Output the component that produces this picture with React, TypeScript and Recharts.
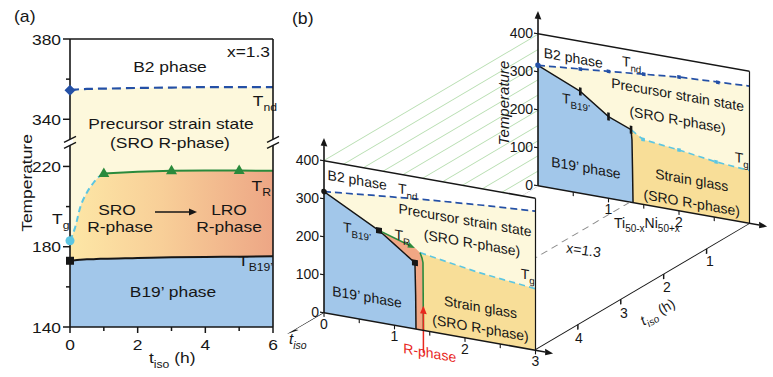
import React from 'react';
import { ComposedChart, Area, Line, XAxis, YAxis, ReferenceLine, ReferenceDot } from 'recharts';

const FONT = '"Liberation Sans", Arial, Helvetica, sans-serif';
const INK = '#161616';
const C_BLUE = '#a2c7ea';
const C_CREAM = '#fdf8dc';
const C_GLASS = '#f8de98';
const C_RPH = '#f1a784';
const C_TND = '#2450a6';
const C_TR = '#2a8a3c';
const C_TG = '#5cc6e2';
const C_RED = '#e8281e';
const C_WALL = '#b8deb1';

// ================= Panel (a): x = 1.3 =================
const A_TIME = [0, 0.15, 0.3, 0.5, 0.7, 0.9, 1, 2, 3, 4, 5, 6];
const A_TND = [354.5, 354.8, 355, 355.1, 355.2, 355.3, 355.3, 355.6, 355.8, 356, 356, 356];
const A_UPPER = [183, 189.5, 199.5, 207, 212, 215.5, 216.5, 217.3, 217.8, 218, 218, 217.8]; // Tg then TR
const A_TB19 = [173, 173.3, 173.5, 173.7, 173.8, 174, 174, 174.4, 174.7, 174.9, 175, 175.2];
const A_TG_LAST_T = 1;
const A_TR_FIRST_T = 1;
const A_TR_MARK_T = [1, 3, 5];
const A_Y_MIN = 140;
const A_Y_MAX = 380;
const A_Y_TICKS = [140, 160, 180, 200, 220, 340, 360, 380];
const A_Y_LABELS = [140, 180, 220, 340, 380];
const A_X_TICKS = [0, 1, 2, 3, 4, 5, 6];
const A_X_LABELS = [0, 2, 4, 6];
const A_GAP = 96.5; // broken temperature axis
const A_BREAK_POS = 232.25;
const A_SX = 1.16;

const brk = (T: number) => (T > 300 ? T - A_GAP : T);
const unbrk = (v: number) => (v > A_BREAK_POS ? v + A_GAP : v);

const aRows = A_TIME.map((t, i) => ({
  t,
  blue: [A_Y_MIN, A_TB19[i]],
  sro: [A_TB19[i], A_UPPER[i]],
  pre: [A_UPPER[i], brk(A_TND[i])],
  tnd: brk(A_TND[i]),
  tb: A_TB19[i],
  tg: t <= A_TG_LAST_T ? A_UPPER[i] : null,
  tr: t >= A_TR_FIRST_T ? A_UPPER[i] : null,
}));

// ================= Panel (b): composition / temperature faces =================
const COMP_AXIS_MAX = 3.25;
const T_AXIS_MAX = 460;
const FRAME_X = [0, 3];
const FRAME_TOP = 400;
const T_TICKS = [0, 100, 200, 300, 400];
const F_X_TICKS = [0, 0.5, 1, 1.5, 2, 2.5, 3];
const F_X_LABELS = [0, 1, 2, 3];
const B_X_TICKS = [0.5, 1, 1.5, 2, 2.5];
const B_X_LABELS = [1, 2];

// front face (long ageing)
const F_TND_X = [0, 0.75, 1.5, 2.25, 3];
const F_TND = [319, 333, 346, 357, 366];
const F_TB_X = [0, 0.78, 1.0, 1.2, 1.29, 1.3, 1.305];
const F_TB = [319, 242, 213, 186, 174, 90, 0];
const F_TR_X = [0.78, 1.29];
const F_TR = [242, 213];
const F_RB_X = [1.362, 1.39, 1.404, 1.41];
const F_RB = [203, 190, 178, 0];
const F_RP_X = [0.78, 1.0, 1.2, 1.29, 1.3, 1.305, 1.362, 1.39, 1.404];
const F_RP_LO = [242, 213, 186, 174, 90, 0, 0, 0, 0];
const F_RP_HI = [242, 229.5, 218, 213, 212, 211.5, 203, 190, 178];
const F_TG_X = [1.362, 2.2, 3];
const F_TG = [203, 178, 162];
const F_SQ_X = [0.78, 1.29];
const F_SQ_T = [242, 174];
const F_RED_ARROW = { x: 1.41, from: -59, to: 65 };

// back face (t_iso = 0)
const B_TND_X = [0, 1, 2, 3];
const B_TND = [317, 334, 352, 361];
const B_TB_X = [0, 0.6, 1.0, 1.32, 1.333, 1.34, 1.348];
const B_TB = [317, 268, 215, 191, 165, 94, 0];
const B_TG_X = [1.32, 1.49, 2.0, 2.525, 3];
const B_TG = [191, 171, 160, 146, 139];
const B_TND_MX = [0.6, 1.0, 1.5, 2.0, 2.55];
const B_TND_MT = [327, 334, 343, 352, 356];
const B_TB_MX = [0.6, 1.0, 1.32];
const B_TB_MT = [268, 215, 191];
const B_TG_MX = [1.49, 2.0, 2.525];
const B_TG_MT = [171, 160, 146];

// side wall (x = 0) and floor (T = 0)
const WALL_LEVELS = [40, 80, 120, 160, 200, 240, 280, 320, 360, 400];
const TISO_FRONT = 5;
const TISO_AXIS_MAX = 6;
const TISO_TICKS = [1, 2, 3, 4];
const X_GUIDE = 1.3;
const TISO_ARROW_END = 5.85;

// ---- projection layout (page pixels) ----
const UX = 70.5; // px per composition unit
const UT = 0.38; // px per K
const SKEW_TAN = 0.1773;
const SKEW_DEG = (Math.atan(SKEW_TAN) * 180) / Math.PI;
const TH_X = 42.9; // page px per hour (leftwards)
const TH_Y = 25.3; // page px per hour (downwards)
const WALL_DEG = (Math.atan(-TH_Y / TH_X) * 180) / Math.PI;
const FLOOR_V = 50; // chart px per hour in floor chart
const B_ORIGIN = { x: 538, y: 186 };
const F_ORIGIN = { x: B_ORIGIN.x - TISO_FRONT * TH_X, y: B_ORIGIN.y + TISO_FRONT * TH_Y };
const P_YAW = 40, P_MT = 6, P_XAH = 50, P_MR = 6;

const rangeRows = (xs: number[], lo: number[] | number, hi: number[] | number) =>
  xs.map((x, i) => ({ x, r: [typeof lo === 'number' ? lo : lo[i], typeof hi === 'number' ? hi : hi[i]] }));
const lineRows = (xs: number[], ys: number[]) => xs.map((x, i) => ({ x, y: ys[i] }));

const unskew = (x: number, y: number) => `translate(${x},${y}) skewY(${-SKEW_DEG}) translate(${-x},${-y})`;

const arrowShape = (color: string, width: number, head: number, dash?: string) => (p: any) => {
  const { x1, y1, x2, y2 } = p;
  const a = Math.atan2(y2 - y1, x2 - x1);
  const bx = x2 - head * Math.cos(a);
  const by = y2 - head * Math.sin(a);
  const w = head * 0.42;
  const lx = bx + w * Math.sin(a), ly = by - w * Math.cos(a);
  const rx = bx - w * Math.sin(a), ry = by + w * Math.cos(a);
  return (
    <g>
      <line x1={x1} y1={y1} x2={bx} y2={by} stroke={color} strokeWidth={width} strokeDasharray={dash} />
      <polygon points={`${x2},${y2} ${lx},${ly} ${rx},${ry}`} fill={color} />
    </g>
  );
};

const shapeAt = (fn: (cx: number, cy: number) => React.ReactElement) => (p: any) => fn(p.cx, p.cy);

function subText(main: string, sub: string, size: number) {
  return [
    <tspan key="m">{main}</tspan>,
    <tspan key="s" fontSize={size * 0.7} dy={size * 0.3}>{sub}</tspan>,
  ];
}

// ---------- panel (a) ticks ----------
const aYTick = (p: any) => {
  const { x, y, payload } = p;
  const real = Math.round(unbrk(payload.value));
  const major = A_Y_LABELS.includes(real);
  return (
    <g>
      <line x1={x - (major ? 7 : 4)} x2={x} y1={y} y2={y} stroke={INK} strokeWidth={1.5} />
      {major && (
        <text transform={`translate(${x - 9},${y + 5.5}) scale(${A_SX},1)`} textAnchor="end" fontSize={15} fontFamily={FONT} fill={INK}>
          {real}
        </text>
      )}
    </g>
  );
};
const aXTick = (p: any) => {
  const { x, y, payload } = p;
  const major = A_X_LABELS.includes(payload.value);
  return (
    <g>
      <line x1={x} x2={x} y1={y} y2={y + (major ? 6 : 4)} stroke={INK} strokeWidth={1.5} />
      {major && (
        <text transform={`translate(${x},${y + 23}) scale(${A_SX},1)`} textAnchor="middle" fontSize={15} fontFamily={FONT} fill={INK}>
          {payload.value}
        </text>
      )}
    </g>
  );
};
const BreakMark = (p: any) => {
  const { cx, cy } = p;
  return (
    <g>
      <polygon points={`${cx - 3},${cy - 1} ${cx + 3},${cy - 4} ${cx + 3},${cy + 2} ${cx - 3},${cy + 5}`} fill="#fff" />
      <line x1={cx - 6} y1={cy + 0.5} x2={cx + 6} y2={cy - 5.5} stroke={INK} strokeWidth={1.4} />
      <line x1={cx - 6} y1={cy + 6.5} x2={cx + 6} y2={cy + 0.5} stroke={INK} strokeWidth={1.4} />
    </g>
  );
};

function PanelA() {
  const trMarks = A_TR_MARK_T.map((t) => ({ t, v: A_UPPER[A_TIME.indexOf(t)] }));
  return (
    <div style={{ position: 'absolute', left: 0, top: 0 }}>
      <ComposedChart width={290} height={377} data={aRows} margin={{ top: 39, right: 17, bottom: 0, left: 0 }}>
        <defs>
          <linearGradient id="sroGrad" x1="0" y1="0" x2="1" y2="0">
            <stop offset="0" stopColor="#fde7a6" />
            <stop offset="0.45" stopColor="#f8cf98" />
            <stop offset="1" stopColor="#eda685" />
          </linearGradient>
        </defs>
        <XAxis dataKey="t" type="number" domain={[0, 6]} ticks={A_X_TICKS} interval={0} height={50}
          tickSize={0} tickMargin={0} tickLine={false} axisLine={{ stroke: INK, strokeWidth: 1.6 }} tick={aXTick} />
        <YAxis type="number" domain={[A_Y_MIN, brk(A_Y_MAX)]} ticks={A_Y_TICKS.map(brk)} interval={0} width={70}
          tickSize={0} tickMargin={0} tickLine={false} axisLine={{ stroke: INK, strokeWidth: 1.6 }} tick={aYTick} />
        <Area dataKey="pre" type="monotone" fill={C_CREAM} fillOpacity={1} stroke="none" isAnimationActive={false} />
        <Area dataKey="sro" type="monotone" fill="url(#sroGrad)" fillOpacity={1} stroke="none" isAnimationActive={false} />
        <Area dataKey="blue" type="monotone" fill={C_BLUE} fillOpacity={1} stroke="none" isAnimationActive={false} />
        <Line dataKey="tnd" type="monotone" stroke={C_TND} strokeWidth={2.2} strokeDasharray="9 5" dot={false} activeDot={false} isAnimationActive={false} />
        <Line dataKey="tb" type="monotone" stroke={INK} strokeWidth={2} dot={false} activeDot={false} isAnimationActive={false} />
        <Line dataKey="tr" type="linear" stroke={C_TR} strokeWidth={2} dot={false} activeDot={false} isAnimationActive={false} />
        <Line dataKey="tg" type="monotone" stroke={C_TG} strokeWidth={2} strokeDasharray="6 4" dot={false} activeDot={false} isAnimationActive={false} />
        <ReferenceLine y={brk(A_Y_MAX)} stroke={INK} strokeWidth={1.6} />
        <ReferenceLine x={6} stroke={INK} strokeWidth={1.6} />
        <ReferenceDot x={0} y={A_BREAK_POS} r={0} ifOverflow="visible" shape={BreakMark} />
        <ReferenceDot x={6} y={A_BREAK_POS} r={0} ifOverflow="visible" shape={BreakMark} />
        <ReferenceDot x={0} y={brk(A_TND[0])} r={0} ifOverflow="visible"
          shape={shapeAt((cx, cy) => <polygon points={`${cx},${cy - 5.5} ${cx + 5.5},${cy} ${cx},${cy + 5.5} ${cx - 5.5},${cy}`} fill={C_TND} />)} />
        <ReferenceDot x={0} y={A_TB19[0]} r={0} ifOverflow="visible"
          shape={shapeAt((cx, cy) => <rect x={cx - 4} y={cy - 4} width={8} height={8} fill={INK} />)} />
        <ReferenceDot x={0} y={A_UPPER[0]} r={0} ifOverflow="visible"
          shape={shapeAt((cx, cy) => <circle cx={cx} cy={cy} r={4.5} fill={C_TG} />)} />
        {trMarks.map((m) => (
          <ReferenceDot key={m.t} x={m.t} y={m.v} r={0} ifOverflow="visible"
            shape={shapeAt((cx, cy) => <polygon points={`${cx},${cy - 6} ${cx + 5.5},${cy + 3.5} ${cx - 5.5},${cy + 3.5}`} fill={C_TR} />)} />
        ))}
      </ComposedChart>
    </div>
  );
}

// ---------- panel (b) faces ----------
const compTick = (labels: number[]) => (p: any) => {
  const { x, y, payload } = p;
  const v = payload.value;
  const ly = y + 16;
  return (
    <g>
      <line x1={x} x2={x} y1={y} y2={y + 4} stroke={INK} strokeWidth={1.1} />
      {labels.includes(v) && (
        <text x={x} y={ly} textAnchor="middle" fontSize={14} fontFamily={FONT} fill={INK} transform={unskew(x, ly)}>{v}</text>
      )}
    </g>
  );
};
const tempTick = (p: any) => {
  const { x, y, payload } = p;
  return (
    <g>
      <line x1={x - 4} x2={x} y1={y} y2={y} stroke={INK} strokeWidth={1.1} />
      <text x={x - 5} y={y + 5} textAnchor="end" fontSize={14} fontFamily={FONT} fill={INK} transform={unskew(x - 5, y + 5)}>
        {payload.value}
      </text>
    </g>
  );
};

const areaProps = { dataKey: 'r', type: 'linear' as const, stroke: 'none', fillOpacity: 1, isAnimationActive: false };
const lineProps = { dataKey: 'y', type: 'linear' as const, dot: false, activeDot: false, isAnimationActive: false };

type Lbl = { x: number; T: number; text: string; sub?: string; anchor?: 'start' | 'middle' | 'end'; color?: string };
const F_LABELS: Lbl[] = [
  { x: 0.47, T: 352, text: 'B2 phase' },
  { x: 1.05, T: 350, text: 'T', sub: 'nd', anchor: 'start' },
  { x: 2.0, T: 297, text: 'Precursor strain state' },
  { x: 2.1, T: 240, text: '(SRO R-phase)' },
  { x: 0.27, T: 222, text: 'T', sub: 'B19’', anchor: 'start' },
  { x: 1.0, T: 227, text: 'T', sub: 'R', anchor: 'start' },
  { x: 0.61, T: 49, text: 'B19’ phase' },
  { x: 2.79, T: 183, text: 'T', sub: 'g', anchor: 'start' },
  { x: 2.22, T: 75, text: 'Strain glass' },
  { x: 2.22, T: 20, text: '(SRO R-phase)' },
  { x: 1.5, T: -69, text: 'R-phase', color: C_RED },
];
const B_LABELS: Lbl[] = [
  { x: 0.5, T: 340, text: 'B2 phase' },
  { x: 1.19, T: 355, text: 'T', sub: 'nd', anchor: 'start' },
  { x: 1.98, T: 292, text: 'Precursor strain state' },
  { x: 1.98, T: 226, text: '(SRO R-phase)' },
  { x: 0.34, T: 230, text: 'T', sub: 'B19’', anchor: 'start' },
  { x: 0.68, T: 57, text: 'B19’ phase' },
  { x: 2.79, T: 155, text: 'T', sub: 'g', anchor: 'start' },
  { x: 2.18, T: 74, text: 'Strain glass' },
  { x: 2.18, T: 14, text: '(SRO R-phase)' },
];

const labelDots = (labels: Lbl[], prefix: string) =>
  labels.map((l, i) => (
    <ReferenceDot key={`${prefix}${i}`} x={l.x} y={l.T} r={0} ifOverflow="visible"
      shape={shapeAt((cx, cy) => (
        <text x={cx} y={cy} fontSize={14} fontFamily={FONT} fill={l.color || INK} textAnchor={l.anchor || 'middle'}>
          {l.sub ? subText(l.text, l.sub, 14) : l.text}
        </text>
      ))} />
  ));

const markerDots = (xs: number[], ts: number[], prefix: string, draw: (cx: number, cy: number) => React.ReactElement) =>
  xs.map((x, i) => <ReferenceDot key={`${prefix}${i}`} x={x} y={ts[i]} r={0} ifOverflow="visible" shape={shapeAt(draw)} />);

const frameLines = (prefix: string) => [
  <ReferenceLine key={`${prefix}top`} segment={[{ x: FRAME_X[0], y: FRAME_TOP }, { x: FRAME_X[1], y: FRAME_TOP }]} stroke={INK} strokeWidth={1.6} ifOverflow="visible" />,
  <ReferenceLine key={`${prefix}right`} segment={[{ x: FRAME_X[1], y: 0 }, { x: FRAME_X[1], y: FRAME_TOP }]} stroke={INK} strokeWidth={1.2} ifOverflow="visible" />,
  <ReferenceLine key={`${prefix}yax`} segment={[{ x: 0, y: 0 }, { x: 0, y: T_AXIS_MAX }]} ifOverflow="visible" shape={arrowShape(INK, 1.6, 8)} />,
  <ReferenceLine key={`${prefix}xax`} segment={[{ x: 0, y: 0 }, { x: COMP_AXIS_MAX, y: 0 }]} ifOverflow="visible" shape={arrowShape(INK, 1.6, 8)} />,
];

function SkewPanel({ origin, xTicks, xLabels, children }: any) {
  const plotW = COMP_AXIS_MAX * UX;
  const plotH = T_AXIS_MAX * UT;
  const W = P_YAW + plotW + P_MR;
  const H = P_MT + plotH + P_XAH;
  return (
    <div style={{ position: 'absolute', left: origin.x - P_YAW, top: origin.y - plotH - P_MT, width: W, height: H,
      transform: `skewY(${SKEW_DEG}deg)`, transformOrigin: `${P_YAW}px ${P_MT + plotH}px` }}>
      <ComposedChart width={W} height={H} margin={{ top: P_MT, right: P_MR, bottom: 0, left: 0 }}>
        <XAxis type="number" dataKey="x" domain={[0, COMP_AXIS_MAX]} allowDataOverflow ticks={xTicks} interval={0} height={P_XAH}
          axisLine={false} tickLine={false} tickSize={0} tickMargin={0} tick={compTick(xLabels)} />
        <YAxis type="number" domain={[0, T_AXIS_MAX]} allowDataOverflow ticks={T_TICKS} interval={0} width={P_YAW}
          axisLine={false} tickLine={false} tickSize={0} tickMargin={0} tick={tempTick} />
        {children}
      </ComposedChart>
    </div>
  );
}

function BackPanel() {
  const kids = [
    <Area key="bg" data={rangeRows(FRAME_X, 0, FRAME_TOP)} {...areaProps} fill="#ffffff" />,
    <Area key="pre" data={rangeRows(B_TND_X, 0, B_TND)} {...areaProps} fill={C_CREAM} />,
    <Area key="glass" data={rangeRows(B_TG_X, 0, B_TG)} {...areaProps} fill={C_GLASS} />,
    <Area key="b19" data={rangeRows(B_TB_X, 0, B_TB)} {...areaProps} fill={C_BLUE} />,
    <Line key="tnd" data={lineRows(B_TND_X, B_TND)} {...lineProps} stroke={C_TND} strokeWidth={1.7} strokeDasharray="7 4" />,
    <Line key="tg" data={lineRows(B_TG_X, B_TG)} {...lineProps} stroke={C_TG} strokeWidth={1.7} strokeDasharray="6 4" />,
    <Line key="tb" data={lineRows(B_TB_X, B_TB)} {...lineProps} stroke={INK} strokeWidth={1.5} />,
    ...frameLines('b'),
    ...markerDots(B_TND_MX, B_TND_MT, 'mn', (cx, cy) => <rect x={cx - 1.8} y={cy - 1.8} width={3.6} height={3.6} fill={C_TND} />),
    ...markerDots(B_TB_MX, B_TB_MT, 'mb', (cx, cy) => <rect x={cx - 1.3} y={cy - 4} width={2.6} height={8} fill={INK} />),
    ...markerDots(B_TG_MX, B_TG_MT, 'mg', (cx, cy) => <rect x={cx - 1.8} y={cy - 1.8} width={3.6} height={3.6} fill={C_TG} />),
    ...markerDots([B_TND_X[0]], [B_TND[0]], 'm0', (cx, cy) => <circle cx={cx} cy={cy} r={2.8} fill={C_TND} />),
    ...labelDots(B_LABELS, 'bl'),
  ];
  return <SkewPanel origin={B_ORIGIN} xTicks={B_X_TICKS} xLabels={B_X_LABELS}>{kids}</SkewPanel>;
}

function FrontPanel() {
  const kids = [
    <Area key="bg" data={rangeRows(FRAME_X, 0, FRAME_TOP)} {...areaProps} fill="#ffffff" />,
    <Area key="pre" data={rangeRows(F_TND_X, 0, F_TND)} {...areaProps} fill={C_CREAM} />,
    <Area key="glass" data={rangeRows(F_TG_X, 0, F_TG)} {...areaProps} fill={C_GLASS} />,
    <Area key="b19" data={rangeRows(F_TB_X, 0, F_TB)} {...areaProps} fill={C_BLUE} />,
    <Area key="rph" data={rangeRows(F_RP_X, F_RP_LO, F_RP_HI)} {...areaProps} fill={C_RPH} />,
    <Line key="tnd" data={lineRows(F_TND_X, F_TND)} {...lineProps} stroke={C_TND} strokeWidth={1.7} strokeDasharray="7 4" />,
    <Line key="tg" data={lineRows(F_TG_X, F_TG)} {...lineProps} stroke={C_TG} strokeWidth={1.7} strokeDasharray="6 4" />,
    <Line key="tb" data={lineRows(F_TB_X, F_TB)} {...lineProps} stroke={INK} strokeWidth={1.5} />,
    <Line key="rb" data={lineRows(F_RB_X, F_RB)} {...lineProps} stroke={C_TR} strokeWidth={1.6} />,
    <ReferenceLine key="tr" segment={[{ x: F_TR_X[0], y: F_TR[0] }, { x: F_TR_X[1], y: F_TR[1] }]} ifOverflow="visible" shape={arrowShape(C_TR, 1.7, 7)} />,
    <ReferenceLine key="red" segment={[{ x: F_RED_ARROW.x, y: F_RED_ARROW.from }, { x: F_RED_ARROW.x, y: F_RED_ARROW.to }]} ifOverflow="visible" shape={arrowShape(C_RED, 1.5, 8)} />,
    ...frameLines('f'),
    ...markerDots(F_SQ_X, F_SQ_T, 'sq', (cx, cy) => <rect x={cx - 3} y={cy - 3} width={6} height={6} fill={INK} />),
    ...markerDots([F_TND_X[0]], [F_TND[0]], 'f0', (cx, cy) => <circle cx={cx} cy={cy} r={2.8} fill={INK} />),
    ...labelDots(F_LABELS, 'fl'),
  ];
  return <SkewPanel origin={F_ORIGIN} xTicks={F_X_TICKS} xLabels={F_X_LABELS}>{kids}</SkewPanel>;
}

function WallPanel() {
  const w = TISO_FRONT * TH_X;
  const h = FRAME_TOP * UT + 2;
  return (
    <div style={{ position: 'absolute', left: B_ORIGIN.x - w, top: B_ORIGIN.y - h, width: w, height: h,
      transform: `skewY(${WALL_DEG}deg)`, transformOrigin: `${w}px ${h}px` }}>
      <ComposedChart width={w} height={h} margin={{ top: 2, right: 0, bottom: 0, left: 0 }}>
        <XAxis type="number" dataKey="t" domain={[0, TISO_FRONT]} reversed hide />
        <YAxis type="number" domain={[0, FRAME_TOP]} hide />
        {WALL_LEVELS.map((v) => (
          <Line key={v} data={[{ t: 0, y: v }, { t: TISO_FRONT, y: v }]} dataKey="y" type="linear" stroke={C_WALL}
            strokeWidth={1} dot={false} activeDot={false} isAnimationActive={false} />
        ))}
      </ComposedChart>
    </div>
  );
}

function FloorPanel() {
  const w = (FRAME_X[1] + 0.3) * UX;
  const h = TISO_AXIS_MAX * FLOOR_V;
  const tickShape = (p: any) => <line x1={p.cx} y1={p.cy} x2={p.cx + 6.5} y2={p.cy + 7.6} stroke={INK} strokeWidth={1.1} />;
  const floorLine = (x: number) => [{ x, t: 0 }, { x, t: TISO_FRONT }];
  return (
    <div style={{ position: 'absolute', left: B_ORIGIN.x, top: B_ORIGIN.y, width: w, height: h,
      transform: `matrix(1, ${SKEW_TAN}, ${-TH_X / FLOOR_V}, ${TH_Y / FLOOR_V}, 0, 0)`, transformOrigin: '0 0' }}>
      <ComposedChart width={w} height={h} margin={{ top: 0, right: 0, bottom: 0, left: 0 }}>
        <XAxis type="number" dataKey="x" domain={[0, FRAME_X[1] + 0.3]} hide />
        <YAxis type="number" domain={[0, TISO_AXIS_MAX]} reversed hide />
        <Line data={floorLine(0)} dataKey="t" type="linear" stroke="#a8a8a8" strokeWidth={1.1} dot={false} activeDot={false} isAnimationActive={false} />
        <Line data={floorLine(X_GUIDE)} dataKey="t" type="linear" stroke="#8a8a8a" strokeWidth={1.4} strokeDasharray="7 5" dot={false} activeDot={false} isAnimationActive={false} />
        <Line data={floorLine(FRAME_X[1])} dataKey="t" type="linear" stroke={INK} strokeWidth={1.4} dot={false} activeDot={false} isAnimationActive={false} />
        <ReferenceLine segment={[{ x: 0, y: TISO_FRONT }, { x: 0, y: TISO_ARROW_END }]} ifOverflow="visible" shape={arrowShape(INK, 1.6, 9)} />
        {TISO_TICKS.map((t) => (
          <ReferenceDot key={t} x={FRAME_X[1]} y={t} r={0} ifOverflow="visible" shape={tickShape} />
        ))}
      </ComposedChart>
    </div>
  );
}

function Txt({ x, y, children, size = 15, anchor = 'middle', sx = 1, color = INK, italic = false, rotate = 0 }: any) {
  return (
    <text transform={`translate(${x},${y}) rotate(${rotate}) scale(${sx},1)`} fontSize={size} fontFamily={FONT} fill={color}
      textAnchor={anchor} fontStyle={italic ? 'italic' : undefined}>
      {children}
    </text>
  );
}

const FLOOR_LABELS = [
  { t: '1', x: 710, y: 266 },
  { t: '2', x: 667, y: 292 },
  { t: '3', x: 624, y: 318 },
  { t: '4', x: 579, y: 343 },
];

function Overlay() {
  return (
    <svg width={773} height={377} style={{ position: 'absolute', left: 0, top: 0, pointerEvents: 'none' }}>
      {/* panel (a) */}
      <Txt x={14} y={22} anchor="start" size={16} sx={1.1}>(a)</Txt>
      <Txt x={270} y={57} anchor="end" sx={A_SX}>x=1.3</Txt>
      <Txt x={170} y={72} sx={A_SX}>B2 phase</Txt>
      <Txt x={277} y={106} anchor="end" sx={A_SX}>{subText('T', 'nd', 15)}</Txt>
      <Txt x={171} y={129} sx={A_SX}>Precursor strain state</Txt>
      <Txt x={170} y={148} sx={A_SX}>(SRO R-phase)</Txt>
      <Txt x={271} y={191} anchor="end" sx={A_SX}>{subText('T', 'R', 15)}</Txt>
      <Txt x={117} y={215} sx={A_SX}>SRO</Txt>
      <Txt x={120} y={232} sx={A_SX}>R-phase</Txt>
      <Txt x={229} y={215} sx={A_SX}>LRO</Txt>
      <Txt x={229} y={232} sx={A_SX}>R-phase</Txt>
      <line x1={155} y1={212} x2={190} y2={212} stroke={INK} strokeWidth={1.4} />
      <polygon points="189,208.5 197,212 189,215.5" fill={INK} />
      <Txt x={52} y={224} anchor="start" sx={A_SX}>{subText('T', 'g', 15)}</Txt>
      <Txt x={273} y={266} anchor="end" sx={A_SX}>{subText('T', 'B19’', 15)}</Txt>
      <Txt x={173} y={297} sx={A_SX}>B19’ phase</Txt>
      <Txt x={32} y={183} rotate={-90} sx={A_SX}>Temperature</Txt>
      <Txt x={149} y={363} anchor="start" sx={A_SX}>{subText('t', 'iso', 15)}<tspan dy={-4.5}> (h)</tspan></Txt>

      {/* panel (b) */}
      <Txt x={292} y={24} anchor="start" size={16} sx={1.1}>(b)</Txt>
      <Txt x={509} y={103} rotate={-90} italic>Temperature</Txt>
      <Txt x={289} y={344} anchor="start" italic>{subText('t', 'iso', 15)}</Txt>
      <Txt x={614} y={228} anchor="start" size={14}>
        <tspan>Ti</tspan>
        <tspan fontSize={10} dy={4}>50-x</tspan>
        <tspan dy={-4}>Ni</tspan>
        <tspan fontSize={10} dy={4}>50+x</tspan>
      </Txt>
      {FLOOR_LABELS.map((l) => (
        <Txt key={l.t} x={l.x} y={l.y} size={14}>{l.t}</Txt>
      ))}
      <Txt x={660} y={316} rotate={-31} size={14}>
        <tspan fontStyle="italic">t</tspan>
        <tspan fontStyle="italic" fontSize={10} dy={4}>iso</tspan>
        <tspan dy={-4}> (h)</tspan>
      </Txt>
      <Txt x={583} y={255} size={14} rotate={8}>x=1.3</Txt>
    </svg>
  );
}

export default function App() {
  return (
    <div style={{ position: 'absolute', left: 0, top: 0, width: 773, height: 377, background: '#fff', overflow: 'hidden', fontFamily: FONT }}>
      <PanelA />
      <WallPanel />
      <BackPanel />
      <FloorPanel />
      <FrontPanel />
      <Overlay />
    </div>
  );
}
